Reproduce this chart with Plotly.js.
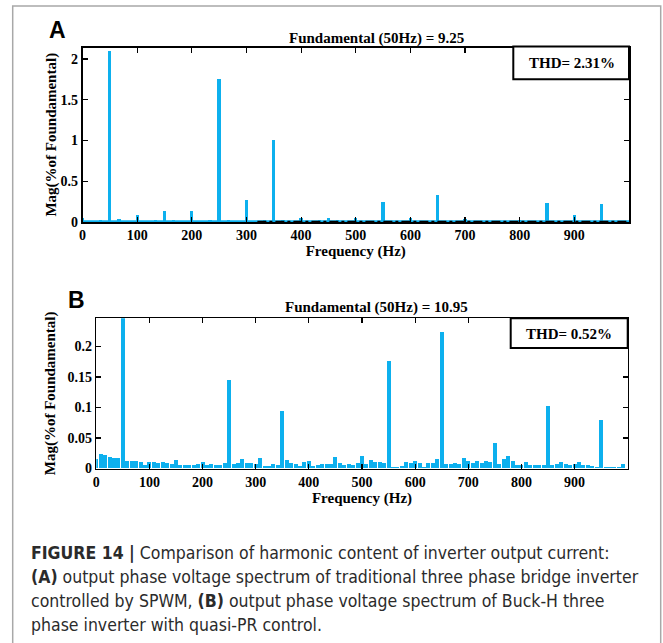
<!DOCTYPE html>
<html>
<head>
<meta charset="utf-8">
<script src="https://cdn.plot.ly/plotly-3.0.1.min.js"></script>
<style>
  html, body { margin: 0; padding: 0; background: #ffffff; }
  #chart { width: 663px; height: 643px; }
</style>
</head>
<body>
<div id="chart"></div>
<script>
// Harmonic spectra of the inverter output (magnitude in % of fundamental).

// (A) SPWM three-phase bridge inverter, FFT bin spacing 50/3 Hz
const binStepA = 50 / 3;
const magA = [
  0.05, 0.012, 0.03, 2.1, 0.035, 0.012, 0.09, 0.012, 0.03, 0.14,
  0.03, 0.012, 0.14, 0.012, 0.03, 1.75, 0.03, 0.012, 0.27, 0.012,
  0.025, 1.0, 0.025, 0.01, 0.05, 0.01, 0.025, 0.055, 0.025, 0.01,
  0.05, 0.01, 0.01, 0.25, 0.01, 0.01, 0.05, 0.01, 0.01, 0.33,
  0.01, 0.01, 0.04, 0.01, 0.01, 0.01, 0.01, 0.01, 0.03, 0.01,
  0.01, 0.23, 0.01, 0.01, 0.09, 0.01, 0.01, 0.22, 0.01, 0.01
];
const freqA = magA.map((_, k) => k * binStepA);

// (B) Buck-H three-phase inverter with quasi-PR control, FFT bin spacing 50/6 Hz
const binStepB = 50 / 6;
const magB = [
  0.016, 0.023, 0.022, 0.019, 0.018, 0.017, 0.26, 0.012, 0.0115, 0.012,
  0.011, 0.006, 0.010, 0.010, 0.009, 0.010, 0.009, 0.008, 0.014, 0.006,
  0.006, 0.005, 0.006, 0.007, 0.011, 0.005, 0.008, 0.005, 0.006, 0.009,
  0.145, 0.008, 0.009, 0.016, 0.009, 0.009, 0.008, 0.017, 0.004, 0.004,
  0.008, 0.005, 0.094, 0.014, 0.009, 0.008, 0.004, 0.011, 0.012, 0.004,
  0.006, 0.007, 0.008, 0.007, 0.019, 0.009, 0.006, 0.008, 0.006, 0.009,
  0.020, 0.007, 0.014, 0.010, 0.011, 0.009, 0.176, 0.002, 0.003, 0.004,
  0.010, 0.009, 0.013, 0.009, 0.003, 0.009, 0.009, 0.015, 0.223, 0.007,
  0.008, 0.009, 0.008, 0.018, 0.013, 0.009, 0.012, 0.009, 0.012, 0.011,
  0.042, 0.008, 0.015, 0.020, 0.013, 0.006, 0.006, 0.011, 0.006, 0.006,
  0.005, 0.006, 0.103, 0.005, 0.007, 0.010, 0.007, 0.006, 0.007, 0.011,
  0.005, 0.006, 0.004, 0.003, 0.079, 0.003, 0.003, 0.003, 0.003, 0.007
];
const freqB = magB.map((_, k) => k * binStepB);

// Baseline traces drawn along the zero line of (A)
const baseHzA = [0, 1000];
const baseMagA = [0.004, 0.004];
const dashHzA = [320, 1000];
const dashMagA = [0.004, 0.004];

// Axis ticks
const freqTicks = [0, 100, 200, 300, 400, 500, 600, 700, 800, 900];
const magTicksA = [0, 0.5, 1, 1.5, 2];
const magTickTextA = ['0', '0.5', '1', '1.5', '2'];
const magTicksB = [0, 0.05, 0.1, 0.15, 0.2];
const magTickTextB = ['0', '0.05', '0.1', '0.15', '0.2'];

const fundamentalA = 9.25, thdA = 2.31;
const fundamentalB = 10.95, thdB = 0.52;

const W = 663, H = 643;
const px = x => x / W;
const py = y => 1 - y / H;

const barBlue = '#0db0ee';
const serif = 'Liberation Serif, Times New Roman, serif';
const tickFont = { family: serif, size: 14, color: '#000', weight: 'bold' };
const titleFont = { family: serif, size: 15, color: '#000', weight: 'bold' };
const captionFont = { family: 'DejaVu Sans Condensed, Liberation Sans, sans-serif', size: 17.5, color: '#2b2b2b' };
const letterFont = { family: 'Liberation Sans, Arial, sans-serif', size: 23, color: '#000' };

const traces = [
  { type: 'scatter', mode: 'lines', x: baseHzA, y: baseMagA, xaxis: 'x', yaxis: 'y',
    line: { color: barBlue, width: 3 }, hoverinfo: 'skip' },
  { type: 'bar', x: freqA, y: magA, xaxis: 'x', yaxis: 'y',
    width: 6, marker: { color: barBlue, line: { width: 0 } } },
  { type: 'scatter', mode: 'lines', x: dashHzA, y: dashMagA, xaxis: 'x', yaxis: 'y',
    line: { color: '#000', width: 2, dash: 'dashdot' }, hoverinfo: 'skip' },
  { type: 'bar', x: freqB, y: magB, xaxis: 'x2', yaxis: 'y2',
    width: 7.4, marker: { color: barBlue, line: { width: 0 } } }
];

function freqAxis(domain, anchor) {
  return {
    domain: domain, anchor: anchor, range: [0, 1000],
    tickvals: freqTicks, ticks: 'inside', ticklen: 5, tickwidth: 1.2, tickcolor: '#000',
    showline: true, linecolor: '#000', linewidth: 1.6, mirror: 'allticks',
    showgrid: false, zeroline: false, tickfont: tickFont,
    title: { text: 'Frequency (Hz)', font: titleFont, standoff: 2 }
  };
}
function magAxis(domain, anchor, range, vals, text, standoff) {
  return {
    domain: domain, anchor: anchor, range: range,
    tickvals: vals, ticktext: text, ticks: 'inside', ticklen: 5, tickwidth: 1.2, tickcolor: '#000',
    showline: true, linecolor: '#000', linewidth: 1.6, mirror: 'allticks',
    showgrid: false, zeroline: false, tickfont: tickFont,
    title: { text: 'Mag(%of Foundamental)', font: titleFont, standoff: standoff }
  };
}

// Text placed at an exact pixel position, centred on it
function label(text, x, y, font, xanchor) {
  return { text: text, xref: 'paper', yref: 'paper', x: px(x), y: py(y),
           xanchor: xanchor || 'center', yanchor: 'middle', showarrow: false, font: font };
}

const layout = {
  width: W, height: H,
  margin: { l: 0, r: 0, t: 0, b: 0 },
  paper_bgcolor: '#ffffff', plot_bgcolor: '#ffffff',
  showlegend: false, bargap: 0,
  xaxis: freqAxis([px(82.5), px(629)], 'y'),
  yaxis: magAxis([py(222), py(47.5)], 'x', [0, 2.14], magTicksA, magTickTextA, 0),
  xaxis2: freqAxis([px(96.3), px(627.7)], 'y2'),
  yaxis2: magAxis([py(468.5), py(318.3)], 'x2', [0, 0.246], magTicksB, magTickTextB, 8),
  shapes: [
    // figure frame
    { type: 'rect', xref: 'paper', yref: 'paper', x0: px(12.7), x1: px(660.7), y0: py(6), y1: py(700),
      line: { color: '#a8a8a8', width: 1.5 }, fillcolor: 'rgba(0,0,0,0)', layer: 'below' },
    // THD boxes
    { type: 'rect', xref: 'paper', yref: 'paper', x0: px(513.3), x1: px(629), y0: py(46.5), y1: py(79.3),
      line: { color: '#000', width: 2 }, fillcolor: '#ffffff' },
    { type: 'rect', xref: 'paper', yref: 'paper', x0: px(510.7), x1: px(627.7), y0: py(318.3), y1: py(348),
      line: { color: '#000', width: 2 }, fillcolor: '#ffffff' }
  ],
  annotations: [
    label('<b>A</b>', 58, 30, letterFont),
    label('<b>B</b>', 76.5, 300, letterFont),
    label('Fundamental (50Hz) = ' + fundamentalA.toFixed(2), 376, 39, titleFont),
    label('Fundamental (50Hz) = ' + fundamentalB.toFixed(2), 376, 307, titleFont),
    label('THD= ' + thdA.toFixed(2) + '%', 571.5, 62.5, titleFont),
    label('THD= ' + thdB.toFixed(2) + '%', 569, 333.5, titleFont),
    // caption
    label('<b>FIGURE 14 |</b> Comparison of harmonic content of inverter output current:', 29, 553, captionFont, 'left'),
    label('<b>(A)</b> output phase voltage spectrum of traditional three phase bridge inverter', 29, 577, captionFont, 'left'),
    label('controlled by SPWM, <b>(B)</b> output phase voltage spectrum of Buck-H three', 29, 601, captionFont, 'left'),
    label('phase inverter with quasi-PR control.', 29, 625, captionFont, 'left')
  ]
};

Plotly.newPlot('chart', traces, layout, { staticPlot: true, displayModeBar: false });
</script>
</body>
</html>
